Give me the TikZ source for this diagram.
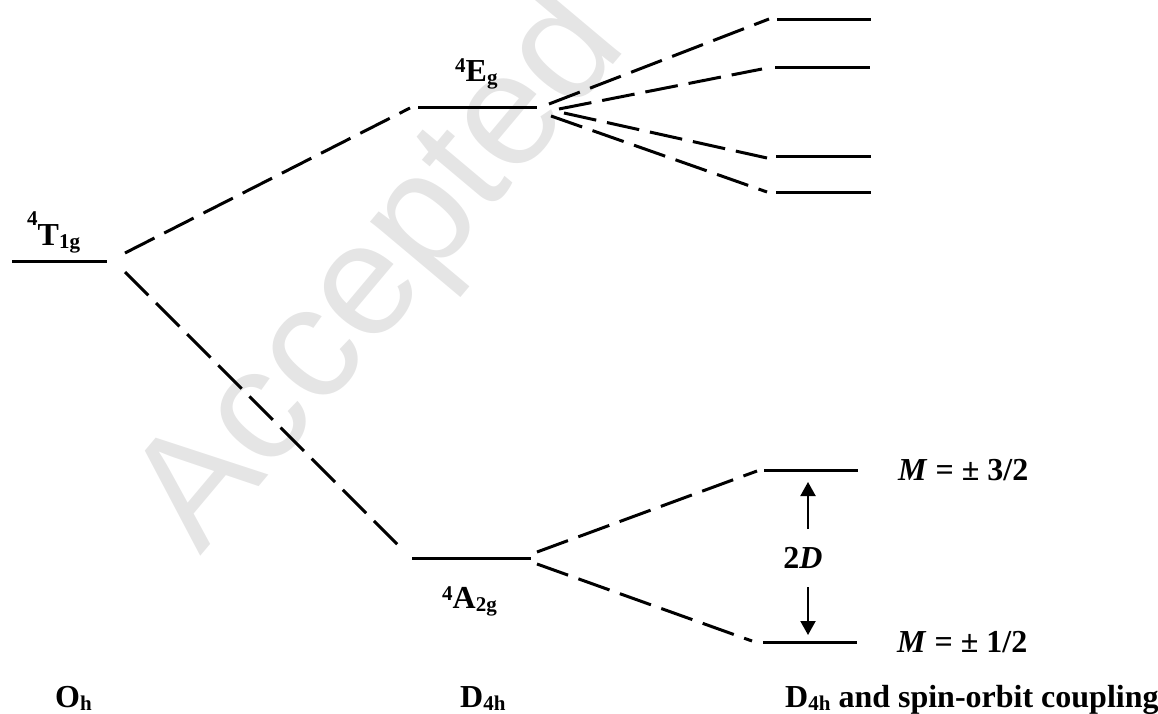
\documentclass[tikz,border=0pt]{standalone}
\usepackage{fontspec}
\setmainfont{Liberation Serif}
\newfontfamily\wmfont{Liberation Sans}
\usetikzlibrary{arrows.meta}
\newcommand{\supr}[2]{\raisebox{#1}{\fontsize{21}{21}\selectfont #2}}
\newcommand{\subr}[1]{\raisebox{-3pt}{\fontsize{21}{21}\selectfont #1}}
\begin{document}
\begin{tikzpicture}[x=1pt,y=-1pt,
  level/.style={line width=3pt},
  conn/.style={line width=3pt, dash pattern=on 33pt off 11pt},
  lab/.style={font=\bfseries\fontsize{32}{38}\selectfont, inner sep=0pt, anchor=base west},
  gaparrow/.style={-{Triangle[length=14pt,width=15pt]}, line width=2pt},
  wmark/.style={font=\wmfont\fontsize{160}{160}\selectfont, text=black!10, inner sep=0pt, anchor=base west, rotate=50}]
\useasboundingbox (0,0) rectangle (1158,714);
% watermark
\node[wmark] (wm) at (200,557) {Accepted};
% level coordinates
\coordinate (t1a) at (12,261);  \coordinate (t1b) at (107,261);
\coordinate (ega) at (418,108); \coordinate (egb) at (537,108);
\coordinate (a2a) at (412,558); \coordinate (a2b) at (531,558);
\coordinate (r1a) at (777,20);  \coordinate (r1b) at (871,20);
\coordinate (r2a) at (775,68);  \coordinate (r2b) at (870,68);
\coordinate (r3a) at (776,157); \coordinate (r3b) at (871,157);
\coordinate (r4a) at (776,192); \coordinate (r4b) at (871,192);
\coordinate (m3a) at (764,470); \coordinate (m3b) at (858,470);
\coordinate (m1a) at (763,642); \coordinate (m1b) at (857,642);
% levels
\foreach \p in {t1,eg,a2,r1,r2,r3,r4,m3,m1} \draw[level] (\p a) -- (\p b);
% connector end points
\coordinate (c1s) at (125,253); \coordinate (c1e) at (410,108);
\coordinate (c2s) at (125,272); \coordinate (c2e) at (405,552);
\coordinate (e1s) at (549,104); \coordinate (e1e) at (769,19);
\coordinate (e2s) at (559,109); \coordinate (e2e) at (762,69);
\coordinate (e3s) at (564,113); \coordinate (e3e) at (767,158);
\coordinate (e4s) at (551,116); \coordinate (e4e) at (767,192);
\coordinate (f1s) at (537,552); \coordinate (f1e) at (757,471);
\coordinate (f2s) at (537,564); \coordinate (f2e) at (752,641);
\foreach \c in {c1,c2,e1,e2,e3,e4,f1,f2} \draw[conn] (\c s) -- (\c e);
% 2D arrows
\coordinate (u0) at (808,529); \coordinate (u1) at (808,482);
\coordinate (d0) at (808,587); \coordinate (d1) at (808,635);
\draw[gaparrow] (u0) -- (u1);
\draw[gaparrow] (d0) -- (d1);
% labels
\node[lab] (lt1) at (27,245) {\supr{20pt}{4}T\subr{1g}};
\node[lab] (leg) at (455,82) {\supr{9pt}{4}E\subr{g}};
\node[lab] (la2) at (442,608) {\supr{8pt}{4}A\subr{2g}};
\node[lab, anchor=center] (l2d) at (803,558) {2\textit{D}};
\node[lab, anchor=west] (lm3) at (898,470) {\textit{M} = ± 3/2};
\node[lab, anchor=west] (lm1) at (897,642) {\textit{M} = ± 1/2};
\node[lab] (loh) at (55,707) {O\subr{h}};
\node[lab] (ld4) at (460,707) {D\subr{4h}};
\node[lab] (lso) at (785,707) {D\subr{4h} and spin-orbit coupling};
\end{tikzpicture}
\end{document}
